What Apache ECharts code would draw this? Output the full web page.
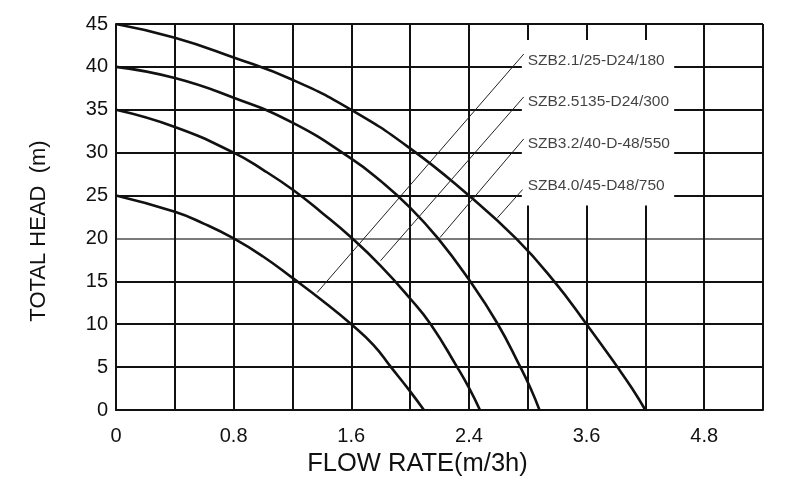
<!DOCTYPE html>
<html>
<head>
<meta charset="utf-8">
<script src="https://cdn.jsdelivr.net/npm/echarts@6/dist/echarts.min.js"></script>
<style>
html,body{margin:0;padding:0;background:#fff;}
#chart{width:800px;height:500px;}
</style>
</head>
<body>
<div id="chart"></div>
<script>
// x values are positions on the chart's evenly spaced grid (0.4 per grid line)
const curveNames = ['SZB2.1/25-D24/180', 'SZB2.5135-D24/300', 'SZB3.2/40-D-48/550', 'SZB4.0/45-D48/750'];

const flow1 = [0, 0.4, 0.6, 0.8, 1.0, 1.2, 1.4, 1.6, 1.75, 1.87, 1.99, 2.094];
const head1 = [25, 23.1, 21.7, 20.0, 17.9, 15.4, 12.8, 10.0, 7.6, 5.0, 2.4, 0];

const flow2 = [0, 0.4, 0.8, 1.0, 1.2, 1.4, 1.6, 1.8, 2.0, 2.14, 2.32, 2.4, 2.475];
const head2 = [35, 33.0, 30.0, 28.0, 25.7, 23.0, 20.1, 16.8, 13.0, 10.0, 5.0, 2.6, 0];

const flow3 = [0, 0.4, 0.8, 1.2, 1.6, 1.8, 2.0, 2.19, 2.4, 2.59, 2.75, 2.82, 2.88];
const head3 = [40, 38.7, 36.4, 33.5, 29.3, 26.7, 23.6, 20.0, 15.2, 10.2, 5.0, 2.5, 0];

const flow4 = [0, 0.4, 0.8, 1.2, 1.6, 2.0, 2.4, 2.72, 2.98, 3.2, 3.41, 3.51, 3.6];
const head4 = [45, 43.4, 41.1, 38.5, 35.0, 30.5, 25.0, 20.0, 15.0, 10.0, 5.0, 2.5, 0];

// leader lines: [bottom point on curve, top point at label]
const leaderFlow = [[1.368, 2.773], [1.799, 2.773], [2.203, 2.773], [2.594, 2.765]];
const leaderHead = [[13.7, 41.5], [17.4, 36.5], [20.1, 31.6], [22.4, 25.7]];

// label anchor positions
const labelFlow = [2.80, 2.80, 2.80, 2.80];
const labelHead = [40.73, 35.93, 31.05, 26.16];

// white legend panel
const panelFlow = [2.76, 3.796];
const panelHead = [43.14, 23.84];

const xTickPos = [0, 0.8, 1.6, 2.4, 3.2, 4.0];
const xTickText = ['0', '0.8', '1.6', '2.4', '3.6', '4.8'];
const yTicks = [0, 5, 10, 15, 20, 25, 30, 35, 40, 45];

const FONT = 'Liberation Sans, Arial, Helvetica, sans-serif';
const INK = '#111';

function zip(xs, ys) { return xs.map((x, i) => [x, ys[i]]); }

const curves = [[flow1, head1], [flow2, head2], [flow3, head3], [flow4, head4]];

const series = [];
curves.forEach((c, i) => {
  series.push({
    name: curveNames[i],
    type: 'line',
    data: zip(c[0], c[1]),
    smooth: 0.5,
    showSymbol: false,
    symbol: 'none',
    lineStyle: { color: INK, width: 2.6 },
    z: 2,
    silent: true
  });
});

leaderFlow.forEach((lf, i) => {
  series.push({
    type: 'line',
    data: zip(lf, leaderHead[i]),
    symbol: 'none',
    lineStyle: { color: '#222', width: 1 },
    z: 4,
    silent: true
  });
});

series.push({
  type: 'scatter',
  symbolSize: 0,
  z: 5,
  silent: true,
  data: labelFlow.map((x, i) => ({ value: [x, labelHead[i]], name: curveNames[i] })),
  label: {
    show: true,
    position: 'right',
    distance: 0,
    formatter: p => p.name,
    color: INK,
    fontFamily: FONT,
    fontSize: 15.5
  },
  markArea: {
    silent: true,
    z: 1,
    itemStyle: { color: '#fff', opacity: 1, borderWidth: 0 },
    data: [[{ coord: [panelFlow[0], panelHead[0]] }, { coord: [panelFlow[1], panelHead[1]] }]]
  }
});

const splitColors = yTicks.map(v => v === 20 ? '#7a7a7a' : INK);

const chart = echarts.init(document.getElementById('chart'), null, { renderer: 'canvas' });
chart.setOption({
  backgroundColor: '#fff',
  animation: false,
  grid: { left: 116, right: 37, top: 24, bottom: 90 },
  xAxis: {
    type: 'value',
    min: 0,
    max: 4.4,
    interval: 0.4,
    name: 'FLOW RATE(m/3h)',
    nameLocation: 'middle',
    nameGap: 41,
    nameTextStyle: { fontFamily: FONT, fontSize: 25.5, color: INK, padding: [0, 44, 0, 0] },
    axisLine: { show: true, onZero: false, lineStyle: { color: INK, width: 2 } },
    axisTick: { show: false },
    axisLabel: {
      margin: 16,
      fontFamily: FONT,
      fontSize: 20,
      color: INK,
      showMaxLabel: true,
      formatter: v => {
        const k = xTickPos.findIndex(p => Math.abs(p - v) < 1e-6);
        return k >= 0 ? xTickText[k] : '';
      }
    },
    splitLine: { show: true, lineStyle: { color: INK, width: 2 } }
  },
  yAxis: {
    type: 'value',
    min: 0,
    max: 45,
    interval: 5,
    name: 'TOTAL HEAD  (m)',
    nameLocation: 'middle',
    nameGap: 66,
    nameTextStyle: { fontFamily: FONT, fontSize: 22, color: INK, padding: [0, 28, 0, 0] },
    axisLine: { show: true, lineStyle: { color: INK, width: 2 } },
    axisTick: { show: false },
    axisLabel: { margin: 8, fontFamily: FONT, fontSize: 20, color: INK },
    splitLine: { show: true, lineStyle: { color: splitColors, width: 2 } }
  },
  series: series
});
</script>
</body>
</html>
